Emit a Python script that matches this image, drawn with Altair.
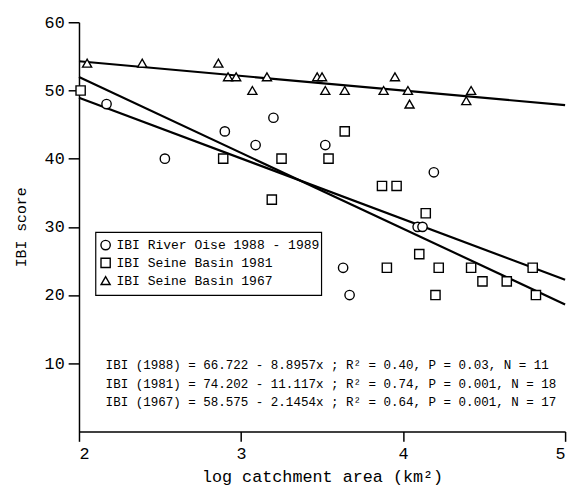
import altair as alt
import pandas as pd

# --- data ---
oise_x = [2.17, 2.53, 2.90, 3.09, 3.20, 3.52, 4.19, 4.09, 4.12, 3.63, 3.67]
oise_y = [48, 40, 44, 42, 46, 42, 38, 30, 30, 24, 20]

s81_x = [2.01, 2.89, 3.25, 3.19, 3.64, 3.54, 3.87, 3.96, 4.14, 4.10, 3.90, 4.22, 4.42, 4.80, 4.49, 4.64, 4.20, 4.82]
s81_y = [50, 40, 40, 34, 44, 40, 36, 36, 32, 26, 24, 24, 24, 24, 22, 22, 20, 20]

s67_x = [2.05, 2.39, 2.86, 2.92, 2.97, 3.16, 3.07, 3.47, 3.50, 3.52, 3.64, 3.95, 3.88, 4.03, 4.04, 4.42, 4.39]
s67_y = [54, 54, 54, 52, 52, 52, 50, 52, 52, 50, 50, 52, 50, 50, 48, 50, 48.5]

series_names = ["IBI  River Oise 1988 - 1989", "IBI  Seine Basin 1981", "IBI  Seine Basin 1967"]
series_shapes = ["circle", "square", "triangle-up"]
series_sizes = [90, 85, 140]
intercepts = [66.722, 74.202, 58.575]
slopes = [-8.8957, -11.117, -2.1454]
x_ends = [2, 5]

equations = [
    "IBI (1988) = 66.722 - 8.8957x ;  R\u00b2 = 0.40,  P = 0.03,  N = 11",
    "IBI (1981) = 74.202 - 11.117x ;  R\u00b2 = 0.74,  P = 0.001,  N = 18",
    "IBI (1967) = 58.575 - 2.1454x ;  R\u00b2 = 0.64,  P = 0.001,  N = 17",
]

x_ticks = [2, 3, 4, 5]
y_ticks = [10, 20, 30, 40, 50, 60]

# --- tables ---
pts = pd.concat([
    pd.DataFrame({"x": oise_x, "y": oise_y, "series": series_names[0]}),
    pd.DataFrame({"x": s81_x, "y": s81_y, "series": series_names[1]}),
    pd.DataFrame({"x": s67_x, "y": s67_y, "series": series_names[2]}),
])

line_rows = []
for name, a, b in zip(series_names, intercepts, slopes):
    for xv in x_ends:
        line_rows.append({"series": name, "x": xv, "y": a + b * xv})
lines_df = pd.DataFrame(line_rows)

eq_df = pd.DataFrame({"text": equations, "row": list(range(len(equations)))})
leg_df = pd.DataFrame({"series": series_names, "row": list(range(len(series_names)))})

FONT = "Liberation Mono"

shape_scale = alt.Scale(domain=series_names, range=series_shapes)
size_scale = alt.Scale(domain=series_names, range=series_sizes)

xs = alt.X("x:Q", scale=alt.Scale(domain=[2, 5], nice=False),
           axis=alt.Axis(values=x_ticks, title="log catchment area (km\u00b2)", format="d"))
ys = alt.Y("y:Q", scale=alt.Scale(domain=[0, 60], nice=False),
           axis=alt.Axis(values=y_ticks, title="IBI score", format="d"))

lines = alt.Chart(lines_df).mark_line(color="black", strokeWidth=2.2).encode(
    x=xs, y=ys, detail="series:N"
)

points = alt.Chart(pts).mark_point(filled=False, fill="white", fillOpacity=1,
                                   stroke="black", strokeWidth=1.4, opacity=1).encode(
    x=xs, y=ys,
    shape=alt.Shape("series:N", scale=shape_scale, legend=None),
    size=alt.Size("series:N", scale=size_scale, legend=None),
)

eqs = alt.Chart(eq_df).mark_text(align="left", baseline="middle", font=FONT,
                                 fontSize=12.7, color="black").encode(
    x=alt.value(27),
    y=alt.Y("py:Q", scale=None),
    text="text:N",
).transform_calculate(py="348 + 18.5 * datum.row")

# hand-built legend box
leg_box = alt.Chart(pd.DataFrame({"a": [0]})).mark_rect(
    fill="white", fillOpacity=1, stroke="black", strokeWidth=1.2
).encode(x=alt.value(17), x2=alt.value(246), y=alt.value(213), y2=alt.value(277))

leg_sym = alt.Chart(leg_df).mark_point(filled=False, fill="white", fillOpacity=1,
                                       stroke="black", strokeWidth=1.4, opacity=1).encode(
    x=alt.value(27),
    y=alt.Y("py:Q", scale=None),
    shape=alt.Shape("series:N", scale=shape_scale, legend=None),
    size=alt.Size("series:N", scale=size_scale, legend=None),
).transform_calculate(py="226 + 18 * datum.row")

leg_txt = alt.Chart(leg_df).mark_text(align="left", baseline="middle", font=FONT,
                                      fontSize=13.2, color="black").encode(
    x=alt.value(38),
    y=alt.Y("py:Q", scale=None),
    text="series:N",
).transform_calculate(py="226 + 18 * datum.row")

chart = alt.layer(lines, points, leg_box, leg_sym, leg_txt, eqs).properties(
    width=493, height=415,
    autosize=alt.AutoSizeParams(type="none"),
    padding={"left": 72, "top": 11, "right": 7, "bottom": 63},
).configure_view(stroke=None).configure_axis(
    grid=False, domainColor="black", domainWidth=1.5, tickColor="black", tickWidth=1.5,
    labelFont=FONT, titleFont=FONT, labelColor="black", titleColor="black",
    labelFontSize=17, titleFontSize=17, titleFontWeight="normal",
).configure_axisX(
    tickSize=10, labelPadding=4, titlePadding=8,
).configure_axisY(
    tickSize=11, labelPadding=4, titlePadding=16, titleFontSize=15,
)

chart.save("out.html", embed_options={"renderer": "svg", "actions": False})
